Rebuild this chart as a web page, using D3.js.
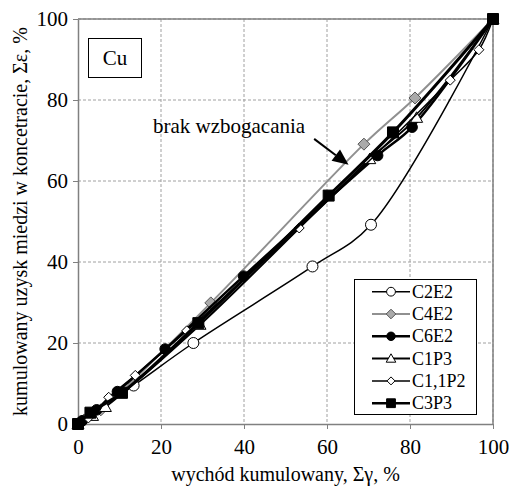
<!DOCTYPE html>
<html><head><meta charset="utf-8">
<script src="https://cdn.jsdelivr.net/npm/d3@7"></script>
<style>
html,body{margin:0;padding:0;background:#fff;}
svg text{font-family:"Liberation Serif","Times New Roman",Times,serif;}
</style></head>
<body>
<svg id="chart" width="509" height="488"></svg>
<script>
// ---- data ----
const xTicks = [0, 20, 40, 60, 80, 100];
const yTicks = [0, 20, 40, 60, 80, 100];
const seriesNames = ["C2E2", "C4E2", "C6E2", "C1P3", "C1,1P2", "C3P3"];
const c2e2X = [0, 13.4, 27.8, 56.5, 70.6, 100];
const c2e2Y = [0, 9.5, 20, 38.9, 49.2, 100];
const c4e2X = [0, 1.5, 5.5, 32, 68.9, 81.2, 100];
const c4e2Y = [0, 1, 3.5, 29.9, 69.1, 80.5, 100];
const c6e2X = [0, 1, 4.5, 9.5, 21, 39.9, 72.2, 80.5, 100];
const c6e2Y = [0, 0.8, 3.5, 8, 18.5, 36.5, 66.3, 73.3, 100];
const c1p3X = [0, 3.5, 6.6, 29.4, 70.3, 81.6, 100];
const c1p3Y = [0, 2, 4.2, 24.5, 65.4, 75.6, 100];
const c11p2X = [0, 2.5, 7.4, 13.8, 26.2, 53.3, 89.7, 96.6, 100];
const c11p2Y = [0, 1.5, 6.6, 12, 23, 48.4, 84.9, 92.4, 100];
const c3p3X = [0, 3, 10.6, 29, 60.4, 75.9, 100];
const c3p3Y = [0, 2.8, 7.7, 24.9, 56.4, 72, 100];
const annotationText = "brak wzbogacania";
const arrowFrom = [56.9, 70.4];
const arrowTo = [65.2, 64.0];
const labelText = "Cu";
const xTitle = "wychód kumulowany, Σγ, %";
const yTitle = "kumulowany uzysk miedzi w koncetracie, Σε, %";

// ---- layout ----
const FONT = "'Liberation Serif','Times New Roman',Times,serif";
const svg = d3.select("#chart");
const L = 78, R = 493, T = 19, B = 424;
const x = d3.scaleLinear().domain([0, 100]).range([L, R]);
const y = d3.scaleLinear().domain([0, 100]).range([B, T]);

// grid
const g = svg.append("g");
g.selectAll(".gx").data(xTicks.filter(v => v > 0)).join("line")
  .attr("x1", d => x(d)).attr("x2", d => x(d)).attr("y1", T).attr("y2", B)
  .attr("stroke", "#a0a0a0").attr("stroke-width", 1).attr("stroke-dasharray", "3,2");
g.selectAll(".gy").data(yTicks.filter(v => v > 0)).join("line")
  .attr("y1", d => y(d)).attr("y2", d => y(d)).attr("x1", L).attr("x2", R)
  .attr("stroke", "#a0a0a0").attr("stroke-width", 1).attr("stroke-dasharray", "3,2");
svg.append("line").attr("x1", L).attr("x2", R).attr("y1", T).attr("y2", T).attr("stroke", "#808080").attr("stroke-width", 1.5);
svg.append("line").attr("x1", R).attr("x2", R).attr("y1", T).attr("y2", B).attr("stroke", "#808080").attr("stroke-width", 1.5);

// axes
const xa = svg.append("g").attr("transform", `translate(0,${B})`)
  .call(d3.axisBottom(x).tickValues(xTicks).tickSize(5).tickSizeOuter(0).tickPadding(10));
const ya = svg.append("g").attr("transform", `translate(${L},0)`)
  .call(d3.axisLeft(y).tickValues(yTicks).tickSize(5).tickSizeOuter(0).tickPadding(5));
[xa, ya].forEach(a => {
  a.attr("font-family", FONT);
  a.select(".domain").attr("stroke", "#808080").attr("stroke-width", 1.5);
  a.selectAll(".tick line").attr("stroke", "#808080");
  a.selectAll("text").attr("font-family", FONT).attr("font-size", 21).attr("fill", "#000");
});

// titles
svg.append("text").attr("x", (L + R) / 2).attr("y", 481).attr("text-anchor", "middle")
  .attr("font-family", FONT).attr("font-size", 20).text(xTitle);
svg.append("text").attr("transform", `translate(27,${(T + B) / 2}) rotate(-90)`)
  .attr("font-family", FONT).attr("text-anchor", "middle").attr("font-size", 20).text(yTitle);

// series
const series = [
  {name: seriesNames[0], xs: c2e2X, ys: c2e2Y, color: "#000", width: 1.5, marker: "circle", fill: "#fff", size: 5.5},
  {name: seriesNames[1], xs: c4e2X, ys: c4e2Y, color: "#909090", width: 2, marker: "diamond", fill: "#aaa", size: 6},
  {name: seriesNames[2], xs: c6e2X, ys: c6e2Y, color: "#000", width: 2.5, marker: "circle", fill: "#000", size: 5.3},
  {name: seriesNames[3], xs: c1p3X, ys: c1p3Y, color: "#000", width: 2, marker: "triangle", fill: "#fff", size: 6},
  {name: seriesNames[4], xs: c11p2X, ys: c11p2Y, color: "#000", width: 1.5, marker: "diamond", fill: "#fff", size: 5},
  {name: seriesNames[5], xs: c3p3X, ys: c3p3Y, color: "#000", width: 3, marker: "square", fill: "#000", size: 5.5}
];
const line = d3.line().x(d => x(d[0])).y(d => y(d[1])).curve(d3.curveCatmullRom.alpha(0.5));

function markerPath(type, s) {
  if (type === "circle") return d3.symbol(d3.symbolCircle, Math.PI * s * s)();
  if (type === "square") return `M${-s},${-s}H${s}V${s}H${-s}Z`;
  if (type === "diamond") return `M0,${-s}L${s},0L0,${s}L${-s},0Z`;
  if (type === "triangle") return `M0,${-s}L${s},${s * 0.75}L${-s},${s * 0.75}Z`;
}

series.forEach(s => {
  const pts = s.xs.map((v, i) => [v, s.ys[i]]);
  svg.append("path").datum(pts).attr("d", line).attr("fill", "none")
    .attr("stroke", s.color).attr("stroke-width", s.width).attr("stroke-linejoin", "round");
  svg.append("g").selectAll("path").data(pts).join("path")
    .attr("transform", d => `translate(${x(d[0])},${y(d[1])})`)
    .attr("d", markerPath(s.marker, s.size))
    .attr("fill", s.fill).attr("stroke", s.color === "#909090" ? "#555" : "#000").attr("stroke-width", 1);
});

// annotation
svg.append("text").attr("x", 153).attr("y", 133).attr("font-family", FONT).attr("font-size", 21).text(annotationText);
const ax1 = x(arrowFrom[0]), ay1 = y(arrowFrom[1]), ax2 = x(arrowTo[0]), ay2 = y(arrowTo[1]);
const ang = Math.atan2(ay2 - ay1, ax2 - ax1);
const hl = 16, hw = 7;
const bx = ax2 - hl * Math.cos(ang), by = ay2 - hl * Math.sin(ang);
svg.append("line").attr("x1", ax1).attr("y1", ay1).attr("x2", bx).attr("y2", by)
  .attr("stroke", "#000").attr("stroke-width", 2);
svg.append("path").attr("d",
  `M${ax2},${ay2}L${bx + hw * Math.sin(ang)},${by - hw * Math.cos(ang)}L${bx - hw * Math.sin(ang)},${by + hw * Math.cos(ang)}Z`)
  .attr("fill", "#000");

// Cu box
svg.append("rect").attr("x", 88.5).attr("y", 38.5).attr("width", 53).attr("height", 39)
  .attr("fill", "#fff").attr("stroke", "#000").attr("stroke-width", 1);
svg.append("text").attr("x", 115).attr("y", 65).attr("text-anchor", "middle")
  .attr("font-family", FONT).attr("font-size", 21).text(labelText);

// legend
const lg = svg.append("g");
lg.append("rect").attr("x", 354.5).attr("y", 279.5).attr("width", 122).attr("height", 135)
  .attr("fill", "#fff").attr("stroke", "#000").attr("stroke-width", 1);
series.forEach((s, i) => {
  const yy = 291.7 + i * 22.3;
  lg.append("line").attr("x1", 372).attr("x2", 410).attr("y1", yy).attr("y2", yy)
    .attr("stroke", s.color).attr("stroke-width", Math.min(s.width, 2.5));
  lg.append("path").attr("transform", `translate(391,${yy})`)
    .attr("d", markerPath(s.marker, s.size * 0.8))
    .attr("fill", s.fill).attr("stroke", s.color === "#909090" ? "#555" : "#000").attr("stroke-width", 1);
  lg.append("text").attr("x", 412).attr("y", yy + 6).attr("font-family", FONT).attr("font-size", 18).text(s.name);
});
</script>
</body></html>
